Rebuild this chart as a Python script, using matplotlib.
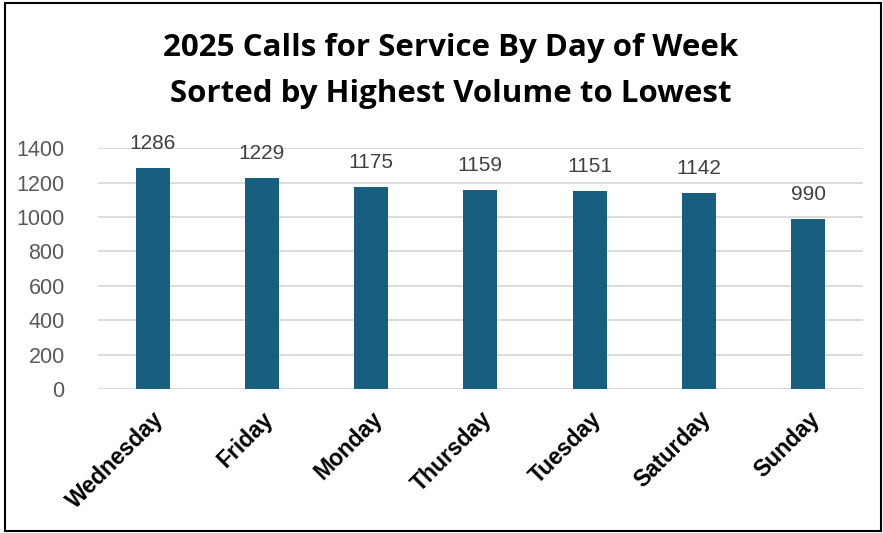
import matplotlib.pyplot as plt
from matplotlib.patches import Rectangle

days = ['Wednesday', 'Friday', 'Monday', 'Thursday', 'Tuesday', 'Saturday', 'Sunday']
calls = [1286, 1229, 1175, 1159, 1151, 1142, 990]
yticks = [0, 200, 400, 600, 800, 1000, 1200, 1400]

fig = plt.figure(figsize=(8.83, 5.33), dpi=100)
ax = fig.add_axes([0.111, 0.270, 0.866, 0.452])

x = range(len(days))
ax.bar(x, calls, width=0.31, color='#175E80', zorder=3)

# data labels above bars
for i, v in enumerate(calls):
    ax.text(i, v + 110, str(v), ha='center', va='baseline', fontsize=15,
            color='#404040', family='Liberation Sans')

ax.set_xlim(-0.5, len(days) - 0.5)
ax.set_ylim(0, 1400)
ax.set_yticks(yticks)
ax.set_yticklabels([str(t) for t in yticks], fontsize=15.5, color='#595959',
                   family='Liberation Sans')
ax.set_xticks(list(x))
ax.set_xticklabels(days, rotation=45, ha='right', rotation_mode='anchor',
                   fontsize=16.5, fontweight='bold', family='Liberation Sans')
ax.tick_params(length=0, axis='both')
ax.tick_params(axis='y', pad=24)
ax.tick_params(axis='x', pad=13)
ax.grid(axis='y', color='#D9D9D9', linewidth=1.3, zorder=0)
for s in ax.spines.values():
    s.set_visible(False)

fig.text(0.51, 0.91, '2025 Calls for Service By Day of Week', ha='center', va='center',
         fontsize=22.5, fontweight='bold', family='Open Sans')
fig.text(0.51, 0.823, 'Sorted by Highest Volume to Lowest', ha='center', va='center',
         fontsize=22.5, fontweight='bold', family='Open Sans')

fig.patches.append(Rectangle((0.006, 0.004), 0.992, 0.99, transform=fig.transFigure,
                             fill=False, edgecolor='black', linewidth=1.5))

fig.savefig('out.png', dpi=100)
